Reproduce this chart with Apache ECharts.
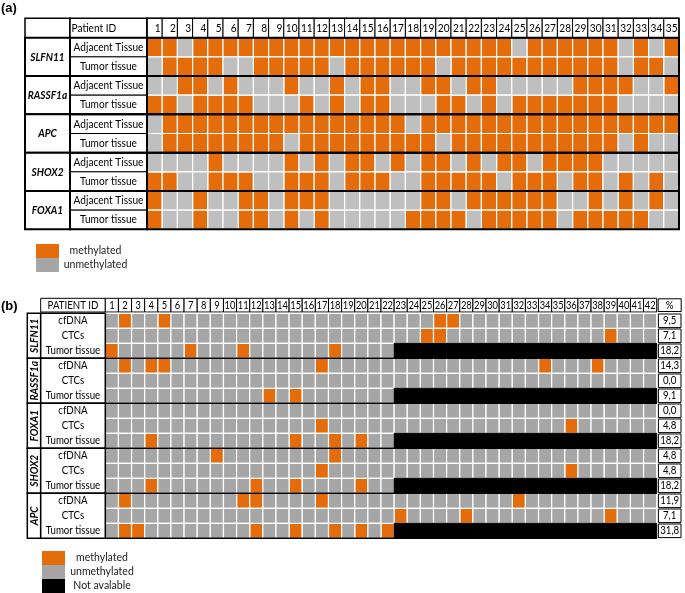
<!DOCTYPE html>
<html><head><meta charset="utf-8">
<script src="https://cdn.jsdelivr.net/npm/echarts@6/dist/echarts.min.js"></script>
<style>html,body{margin:0;padding:0;background:#fff}#c{width:685px;height:593px}</style>
</head><body><div id="c"></div><script>
// ================= DATA : panel (a) =================
const patientIdsA = Array.from({length: 35}, (_, i) => String(i + 1));
const genesA = ['SLFN11', 'RASSF1a', 'APC', 'SHOX2', 'FOXA1'];
const tissuesA = ['Adjacent Tissue', 'Tumor tissue'];
// 1 = methylated, 0 = unmethylated
const slfn11AdjacentA = [1,1,0,1,1,1,1,1,1,1, 1,1,1,1,1,1,1,1,1,1, 1,1,1,1,0,1,1,1,1,1, 1,0,1,0,1];
const slfn11TumorA    = [0,1,1,1,1,0,0,1,1,1, 1,1,0,1,1,1,1,1,1,0, 1,1,1,1,1,1,1,1,1,1, 1,0,1,1,0];
const rassf1aAdjacentA= [0,0,1,1,0,1,0,0,0,1, 0,0,1,0,1,1,0,0,1,1, 0,1,1,0,0,0,0,0,1,1, 1,1,0,0,1];
const rassf1aTumorA   = [1,1,0,1,1,1,1,0,0,0, 1,0,1,0,1,1,0,0,0,1, 1,0,1,0,1,1,1,1,1,1, 1,0,0,0,0];
const apcAdjacentA    = [0,1,1,1,1,1,1,1,1,1, 1,1,1,1,1,1,1,0,1,1, 1,1,1,1,1,1,1,1,1,1, 1,1,1,1,1];
const apcTumorA       = [0,1,1,1,1,1,1,1,1,0, 1,1,1,1,1,1,1,1,1,0, 1,1,1,1,1,1,1,1,1,1, 1,0,1,0,0];
const shox2AdjacentA  = [0,0,0,0,1,0,0,0,0,1, 0,1,0,1,1,0,1,0,1,1, 0,1,0,1,1,0,1,1,1,1, 0,0,0,0,0];
const shox2TumorA     = [1,1,0,0,1,1,1,0,0,1, 1,1,0,1,1,1,0,0,1,1, 1,1,1,0,1,1,1,0,1,1, 0,1,0,1,0];
const foxa1AdjacentA  = [1,0,0,1,0,0,1,1,0,1, 1,1,0,0,0,0,0,0,1,1, 0,1,1,1,1,1,1,0,0,1, 0,1,0,1,0];
const foxa1TumorA     = [1,0,0,1,0,0,1,1,0,1, 0,1,0,0,0,0,0,1,1,1, 1,0,1,1,1,1,1,0,1,1, 1,1,1,0,0];
const rowsA = [slfn11AdjacentA, slfn11TumorA, rassf1aAdjacentA, rassf1aTumorA, apcAdjacentA,
               apcTumorA, shox2AdjacentA, shox2TumorA, foxa1AdjacentA, foxa1TumorA];

// ================= DATA : panel (b) =================
const patientIdsB = Array.from({length: 42}, (_, i) => String(i + 1));
const genesB = ['SLFN11', 'RASSF1a', 'FOXA1', 'SHOX2', 'APC'];
const sourcesB = ['cfDNA', 'CTCs', 'Tumor tissue'];
// 1 = methylated, 0 = unmethylated; tumor tissue only available for patients 1-22
const slfn11CfdnaB  = [0,1,0,0,1,0,0,0,0,0, 0,0,0,0,0,0,0,0,0,0, 0,0,0,0,0,1,1,0,0,0, 0,0,0,0,0,0,0,0,0,0, 0,0];
const slfn11CtcsB   = [0,0,0,0,0,0,0,0,0,0, 0,0,0,0,0,0,0,0,0,0, 0,0,0,0,1,1,0,0,0,0, 0,0,0,0,0,0,0,0,1,0, 0,0];
const slfn11TumorB  = [1,0,0,0,0,0,1,0,0,0, 1,0,0,0,0,0,0,1,0,0, 0,0];
const rassf1aCfdnaB = [0,1,0,1,1,0,0,0,0,0, 0,0,0,0,0,0,1,0,0,0, 0,0,0,0,0,0,0,0,0,0, 0,0,0,1,0,0,0,1,0,0, 0,0];
const rassf1aCtcsB  = [0,0,0,0,0,0,0,0,0,0, 0,0,0,0,0,0,0,0,0,0, 0,0,0,0,0,0,0,0,0,0, 0,0,0,0,0,0,0,0,0,0, 0,0];
const rassf1aTumorB = [0,0,0,0,0,0,0,0,0,0, 0,0,1,0,1,0,0,0,0,0, 0,0];
const foxa1CfdnaB   = [0,0,0,0,0,0,0,0,0,0, 0,0,0,0,0,0,0,0,0,0, 0,0,0,0,0,0,0,0,0,0, 0,0,0,0,0,0,0,0,0,0, 0,0];
const foxa1CtcsB    = [0,0,0,0,0,0,0,0,0,0, 0,0,0,0,0,0,1,0,0,0, 0,0,0,0,0,0,0,0,0,0, 0,0,0,0,0,1,0,0,0,0, 0,0];
const foxa1TumorB   = [0,0,0,1,0,0,0,0,0,0, 0,0,0,0,1,0,0,1,0,1, 0,0];
const shox2CfdnaB   = [0,0,0,0,0,0,0,0,1,0, 0,0,0,0,0,0,0,1,0,0, 0,0,0,0,0,0,0,0,0,0, 0,0,0,0,0,0,0,0,0,0, 0,0];
const shox2CtcsB    = [0,0,0,0,0,0,0,0,0,0, 0,0,0,0,0,0,1,0,0,0, 0,0,0,0,0,0,0,0,0,0, 0,0,0,0,0,1,0,0,0,0, 0,0];
const shox2TumorB   = [0,0,0,1,0,0,0,0,0,0, 0,1,0,0,1,0,0,0,0,1, 0,0];
const apcCfdnaB     = [0,1,0,0,0,0,0,0,0,0, 1,1,0,0,0,0,1,0,0,0, 0,0,0,0,0,0,0,0,0,0, 0,1,0,0,0,0,0,0,0,0, 0,0];
const apcCtcsB      = [0,0,0,0,0,0,0,0,0,0, 0,0,0,0,0,0,0,0,0,0, 0,0,1,0,0,0,0,1,0,0, 0,0,0,0,0,0,0,0,1,0, 0,0];
const apcTumorB     = [0,1,1,0,0,0,0,0,0,0, 0,1,0,0,1,0,0,1,0,1, 0,1];
const rowsB = [slfn11CfdnaB, slfn11CtcsB, slfn11TumorB, rassf1aCfdnaB, rassf1aCtcsB, rassf1aTumorB,
               foxa1CfdnaB, foxa1CtcsB, foxa1TumorB, shox2CfdnaB, shox2CtcsB, shox2TumorB,
               apcCfdnaB, apcCtcsB, apcTumorB];
const percentB = [9.5, 7.1, 18.2, 14.3, 0.0, 9.1, 0.0, 4.8, 18.2, 4.8, 4.8, 18.2, 11.9, 7.1, 31.8];

// ================= STYLE =================
const FONT = 'Lato';
const ORANGE = '#E46C0A';
const GRAY_A = '#BFBFBF';
const GRAY_B = '#A6A6A6';
const BLACK = '#000000';

// ================= BUILD =================
const grids = [], xAxes = [], yAxes = [], series = [];
function addGrid(box, xCats, yCats) {
  const i = grids.length;
  grids.push(Object.assign({containLabel: false, show: false}, box));
  xAxes.push({type: 'category', gridIndex: i, data: xCats, show: false});
  yAxes.push({type: 'category', gridIndex: i, data: yCats, inverse: true, show: false});
  return i;
}
function boxes(name, gi, data, st, label) {
  return {
    type: 'custom', name: name, xAxisIndex: gi, yAxisIndex: gi, data: data, silent: true, z: 2,
    itemStyle: {color: st.fill},
    renderItem(p, api) {
      const c = api.coord([api.value(0), api.value(1)]);
      const s = api.size([1, 1]);
      const ins = st.inset || 0;
      const x0 = c[0] - s[0] / 2 + ins, y0 = c[1] - s[1] / 2 + ins, w = s[0] - 2 * ins, h = s[1] - 2 * ins;
      const ch = [{type: 'rect', shape: {x: x0, y: y0, width: w, height: h},
                   style: {fill: st.fill, stroke: st.stroke || null, lineWidth: st.lw || 0}}];
      if (label) {
        let tx = c[0];
        if (label.align === 'left') tx = x0 + (label.pad || 2);
        if (label.align === 'right') tx = x0 + w - (label.pad || 2);
        ch.push({type: 'text', x: tx, y: c[1] + (label.dy || 0), rotation: label.rot || 0, scaleX: label.sx || 1,
          style: {text: label.text(p.dataIndex), align: label.align || 'center', verticalAlign: 'middle',
                  fontFamily: FONT, fontSize: label.size, fontWeight: label.weight || 'normal',
                  fontStyle: label.fstyle || 'normal', fill: '#000'}});
      }
      return {type: 'group', children: ch};
    }
  };
}
function frames(gi, data, lw, sides) {
  return {
    type: 'custom', xAxisIndex: gi, yAxisIndex: gi, data: data, silent: true, z: 5,
    renderItem(p, api) {
      const a = api.coord([api.value(0), api.value(1)]);
      const b = api.coord([api.value(2), api.value(3)]);
      const s = api.size([1, 1]);
      const x0 = a[0] - s[0] / 2, y0 = a[1] - s[1] / 2, x1 = b[0] + s[0] / 2, y1 = b[1] + s[1] / 2;
      if (sides === 'b') {
        return {type: 'line', shape: {x1: x0, y1: y1, x2: x1, y2: y1}, style: {stroke: '#000', lineWidth: lw}};
      }
      return {type: 'rect', shape: {x: x0, y: y0, width: x1 - x0, height: y1 - y0},
              style: {fill: null, stroke: '#000', lineWidth: lw}};
    }
  };
}
function splitCells(rows, nCols) {
  const m = [], u = [], na = [];
  rows.forEach((r, y) => {
    for (let x = 0; x < nCols; x++) {
      const v = r[x];
      if (v === 1) m.push([x, y]); else if (v === 0) u.push([x, y]); else na.push([x, y]);
    }
  });
  return {m, u, na};
}

// ---------- panel (a) ----------
const rowLabelsA = rowsA.map((_, i) => genesA[Math.floor(i / 2)] + ' ' + tissuesA[i % 2]);
const SX = 0.88;
const gAhg = addGrid({left: 25, top: 18.3, width: 45, height: 19.4}, [''], ['']);
const gAht = addGrid({left: 70, top: 18.3, width: 77, height: 19.4}, [''], ['']);
const gAhc = addGrid({left: 147, top: 18.3, width: 532, height: 19.4}, patientIdsA, ['']);
const gAg  = addGrid({left: 25, top: 37.7, width: 45, height: 191.6}, [''], genesA);
const gAt  = addGrid({left: 70, top: 37.7, width: 77, height: 191.6}, [''], rowLabelsA);
const gAc  = addGrid({left: 147, top: 37.7, width: 532, height: 191.6}, patientIdsA, rowLabelsA);

series.push(boxes('', gAhg, [[0, 0]], {fill: '#fff', stroke: '#000', lw: 1.5}));
series.push(boxes('', gAht, [[0, 0]], {fill: '#fff', stroke: '#000', lw: 1.5},
  {text: () => 'Patient ID', align: 'left', pad: 1.5, size: 11.5, sx: SX}));
series.push(boxes('', gAhc, patientIdsA.map((_, i) => [i, 0]), {fill: '#fff', stroke: '#000', lw: 1},
  {text: i => patientIdsA[i], align: 'right', pad: 1.5, size: 11.5, sx: SX}));
series.push(frames(gAhc, [[0, 0, patientIdsA.length - 1, 0]], 1.5));
series.push(boxes('', gAg, genesA.map((_, i) => [0, i]), {fill: '#fff', stroke: '#000', lw: 2},
  {text: i => genesA[i], weight: 'bold', fstyle: 'italic', size: 11.5, sx: SX}));
series.push(boxes('', gAt, rowsA.map((_, i) => [0, i]), {fill: '#fff', stroke: '#000', lw: 1},
  {text: i => tissuesA[i % 2], size: 11.5, sx: SX}));
series.push(frames(gAt, genesA.map((_, g) => [0, 2 * g, 0, 2 * g + 1]), 2));
const cellsA = splitCells(rowsA, patientIdsA.length);
series.push(boxes('methylated', gAc, cellsA.m, {fill: ORANGE, stroke: '#fff', lw: 1.2}));
series.push(boxes('unmethylated', gAc, cellsA.u, {fill: GRAY_A, stroke: '#fff', lw: 1.2}));
series.push(frames(gAc, genesA.map((_, g) => [0, 2 * g, patientIdsA.length - 1, 2 * g + 1]), 2));

// ---------- panel (b) ----------
const rowLabelsB = rowsB.map((_, i) => genesB[Math.floor(i / 3)] + ' ' + sourcesB[i % 3]);
const gBht = addGrid({left: 40.7, top: 298.3, width: 64.6, height: 13.7}, [''], ['']);
const gBhc = addGrid({left: 105.3, top: 298.3, width: 551.4, height: 13.7}, patientIdsB, ['']);
const gBhp = addGrid({left: 657.7, top: 298.3, width: 24, height: 13.7}, [''], ['']);
const gBg  = addGrid({left: 27.3, top: 313.3, width: 13.4, height: 225}, [''], genesB);
const gBt  = addGrid({left: 40.7, top: 313.3, width: 64.6, height: 225}, [''], rowLabelsB);
const gBc  = addGrid({left: 105.3, top: 313.3, width: 551.4, height: 225}, patientIdsB, rowLabelsB);
const gBp  = addGrid({left: 657.7, top: 313.3, width: 24, height: 225}, [''], rowLabelsB);

series.push(boxes('', gBht, [[0, 0]], {fill: '#fff', stroke: '#000', lw: 1},
  {text: () => 'PATIENT ID', size: 11, sx: SX}));
series.push(boxes('', gBhc, patientIdsB.map((_, i) => [i, 0]), {fill: '#fff', stroke: '#000', lw: 1},
  {text: i => patientIdsB[i], size: 11, sx: 0.85}));
series.push(boxes('', gBhp, [[0, 0]], {fill: '#fff', stroke: '#000', lw: 1, inset: 0.5},
  {text: () => '%', size: 11, sx: SX}));
series.push(boxes('', gBg, genesB.map((_, i) => [0, i]), {fill: '#fff', stroke: '#000', lw: 1.5},
  {text: i => genesB[i], weight: 'bold', fstyle: 'italic', size: 11.5, sx: SX, rot: Math.PI / 2}));
series.push(boxes('', gBt, rowsB.map((_, i) => [0, i]), {fill: '#fff'},
  {text: i => sourcesB[i % 3], size: 11, sx: SX}));
series.push(frames(gBt, genesB.map((_, g) => [0, 3 * g, 0, 3 * g + 2]), 1.5));
const cellsB = splitCells(rowsB, patientIdsB.length);
series.push(boxes('methylated', gBc, cellsB.m, {fill: ORANGE, stroke: '#fff', lw: 1.2}));
series.push(boxes('unmethylated', gBc, cellsB.u, {fill: GRAY_B, stroke: '#fff', lw: 1.2}));
series.push(boxes('Not avalable', gBc, cellsB.na, {fill: BLACK, stroke: BLACK, lw: 1}));
series.push(frames(gBc, genesB.map((_, g) => [0, 3 * g, patientIdsB.length - 1, 3 * g + 2]), 1.5, 'b'));
series.push(boxes('', gBp, percentB.map((_, i) => [0, i]), {fill: '#fff', stroke: '#000', lw: 1, inset: 0.7},
  {text: i => percentB[i].toFixed(1).replace('.', ','), size: 11, sx: SX}));

const legendText = (w) => ({
  fontFamily: FONT, fontSize: 10.5, color: '#222',
  rich: {t: {width: w, align: 'center', fontFamily: FONT, fontSize: 10.5, lineHeight: 14, color: '#222'}}
});

const chart = echarts.init(document.getElementById('c'));
chart.setOption({
  animation: false,
  backgroundColor: '#fff',
  title: [
    {text: '(a)', left: 1, top: 2, padding: 0, textStyle: {fontFamily: 'Liberation Sans', fontWeight: 'bold', fontSize: 13, color: '#000'}},
    {text: '(b)', left: 1, top: 300, padding: 0, textStyle: {fontFamily: 'Liberation Sans', fontWeight: 'bold', fontSize: 13, color: '#000'}}
  ],
  legend: [
    {left: 36, top: 244, orient: 'vertical', padding: 0, itemGap: 0, itemWidth: 23, itemHeight: 14, icon: 'rect',
     selectedMode: false, formatter: n => '{t|' + n + '}', textStyle: legendText(63),
     data: [{name: 'methylated', itemStyle: {color: ORANGE}}, {name: 'unmethylated', itemStyle: {color: GRAY_B}}]},
    {left: 42, top: 551, orient: 'vertical', padding: 0, itemGap: 0, itemWidth: 23, itemHeight: 14, icon: 'rect',
     selectedMode: false, formatter: n => '{t|' + n + '}', textStyle: legendText(64),
     data: [{name: 'methylated', itemStyle: {color: ORANGE}}, {name: 'unmethylated', itemStyle: {color: GRAY_B}},
            {name: 'Not avalable', itemStyle: {color: BLACK}}]}
  ],
  grid: grids, xAxis: xAxes, yAxis: yAxes, series: series
});
</script></body></html>
